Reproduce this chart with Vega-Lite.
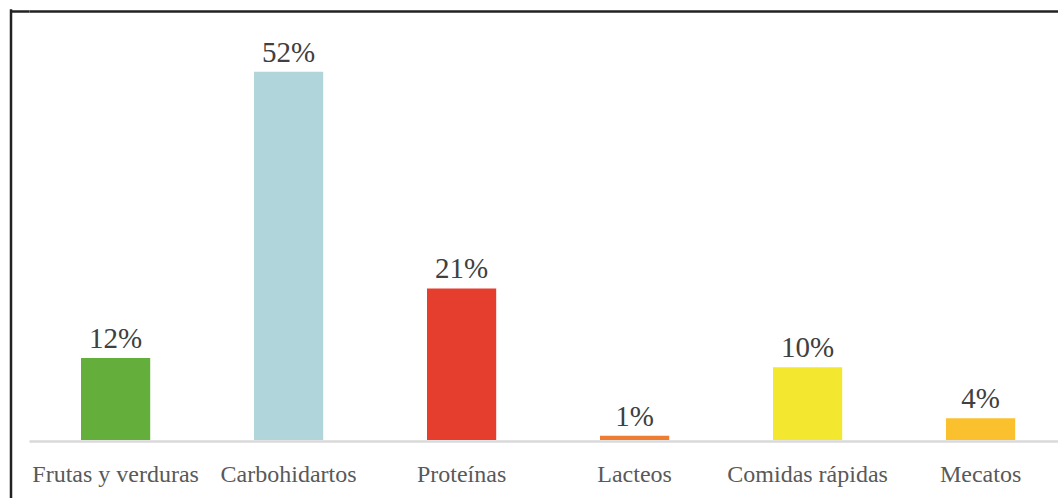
{
  "$schema": "https://vega.github.io/schema/vega-lite/v6.json",
  "width": 1029,
  "height": 488,
  "autosize": "none",
  "padding": {"left": 29, "top": 10, "right": 0, "bottom": 0},
  "background": "#ffffff",
  "config": {"view": {"stroke": null}},
  "data": {
    "values": [
      {"categoria": "Frutas y verduras", "valor": 11.6, "etiqueta": "12%"},
      {"categoria": "Carbohidartos", "valor": 52, "etiqueta": "52%"},
      {"categoria": "Proteínas", "valor": 21.4, "etiqueta": "21%"},
      {"categoria": "Lacteos", "valor": 0.6, "etiqueta": "1%"},
      {"categoria": "Comidas rápidas", "valor": 10.3, "etiqueta": "10%"},
      {"categoria": "Mecatos", "valor": 3.1, "etiqueta": "4%"}
    ]
  },
  "encoding": {
    "x": {
      "field": "categoria",
      "type": "nominal",
      "sort": null,
      "scale": {"paddingInner": 0.6, "paddingOuter": 0.274, "align": 0.5485},
      "axis": {
        "title": null,
        "orient": "bottom",
        "offset": -57,
        "labelAngle": 0,
        "ticks": false,
        "domainColor": "#d9d9d9",
        "domainWidth": 2.5,
        "labelFont": "Liberation Serif",
        "labelFontSize": 24,
        "labelColor": "#595959",
        "labelPadding": 21,
        "grid": false
      }
    },
    "y": {
      "field": "valor",
      "type": "quantitative",
      "scale": {"domain": [-8.17, 60.7], "nice": false, "zero": false},
      "axis": {
        "title": null,
        "orient": "left",
        "offset": 18.5,
        "values": [60.6],
        "labels": false,
        "ticks": true,
        "tickSize": -18.5,
        "tickColor": "#222222",
        "tickWidth": 2.5,
        "tickOpacity": 1,
        "domainColor": "#222222",
        "domainWidth": 2.5,
        "domainCap": "square",
        "grid": true,
        "gridColor": "#222222",
        "gridWidth": 2.5,
        "gridOpacity": 1
      }
    }
  },
  "layer": [
    {
      "mark": {"type": "bar"},
      "encoding": {
        "y2": {"datum": 0},
        "color": {
          "field": "categoria",
          "type": "nominal",
          "scale": {
            "domain": ["Frutas y verduras", "Carbohidartos", "Proteínas", "Lacteos", "Comidas rápidas", "Mecatos"],
            "range": ["#64AF3C", "#B0D5DB", "#E63E2E", "#EE7D31", "#F4E72F", "#FBC02D"]
          },
          "legend": null
        }
      }
    },
    {
      "mark": {
        "type": "text",
        "baseline": "alphabetic",
        "dy": -10,
        "font": "Liberation Serif",
        "fontSize": 29,
        "color": "#404040"
      },
      "encoding": {
        "text": {"field": "etiqueta"}
      }
    }
  ]
}
